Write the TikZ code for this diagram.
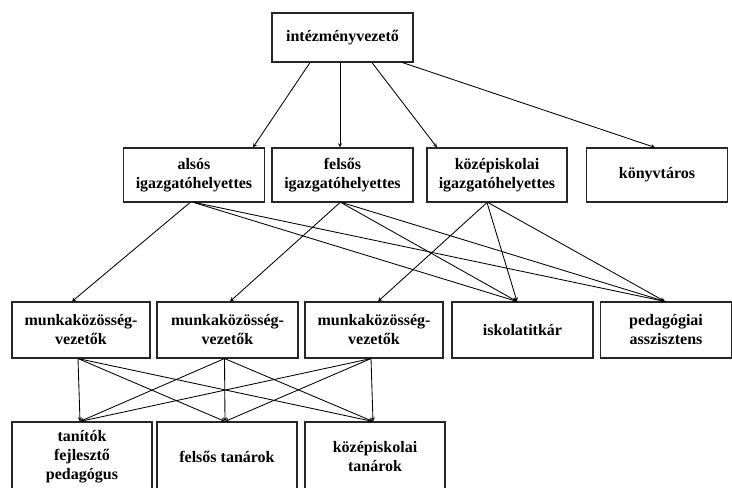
\documentclass[tikz,border=0pt]{standalone}
\usepackage{fontspec}
\setmainfont{Liberation Serif}
\usetikzlibrary{arrows}

\begin{document}
\begin{tikzpicture}[x=1pt, y=-1pt, >=stealth,
	box/.style={draw=black!85, line width=1.1pt, align=center, inner sep=2pt,
		font=\fontsize{16}{19}\selectfont\bfseries, minimum width=141pt, minimum height=54pt},
	conn/.style={->, line width=0.85pt}]

\useasboundingbox (0,0) rectangle (732,488);

\node[box, minimum height=49pt] at (342.5,37.5)(ivez) {intézményvezető};

\node[box] at (194,175)(also) {alsós\\igazgatóhelyettes};
\node[box] at (342.5,175)(felso) {felsős\\igazgatóhelyettes};
\node[box, minimum width=140pt] at (497,175)(kozep) {középiskolai\\igazgatóhelyettes};
\node[box, minimum width=141pt] at (657,175)(konyv) {könyvtáros};

\node[box, minimum width=138pt, minimum height=56pt] at (81,330)(mk1) {munkaközösség-\\vezetők};
\node[box, minimum height=56pt] at (227.5,330)(mk2) {munkaközösség-\\vezetők};
\node[box, minimum width=138pt, minimum height=56pt] at (374,330)(mk3) {munkaközösség-\\vezetők};
\node[box, minimum height=56pt] at (522.5,330)(titk) {iskolatitkár};
\node[box, minimum width=131pt, minimum height=56pt] at (666,330)(asszi) {pedagógiai\\asszisztens};

\node[box, minimum width=140pt, minimum height=70pt] at (82,457)(tan) {tanítók\\fejlesztő\\pedagógus};
\node[box, minimum width=140pt, minimum height=70pt] at (227,457)(ftan) {felsős tanárok};
\node[box, minimum width=140pt, minimum height=70pt] at (375,457)(ktan) {középiskolai\\tanárok};

% vezeto -> helyettesek
\draw[conn] ([xshift=-32.5pt]ivez.south) -- ([xshift=59pt]also.north);
\draw[conn] ([xshift=-2.5pt]ivez.south) -- ([xshift=-2.5pt]felso.north);
\draw[conn] ([xshift=29.5pt]ivez.south) -- ([xshift=-60pt]kozep.north);
\draw[conn] ([xshift=60pt]ivez.south) -- ([xshift=-2pt]konyv.north);

% helyettesek -> masodik szint
\draw[conn] ([xshift=-4pt]also.south) -- ([xshift=-9pt]mk1.north);
\draw[conn] ([xshift=0pt]also.south) -- ([xshift=-5.5pt]titk.north);
\draw[conn] ([xshift=1pt]also.south) -- ([xshift=-1pt]asszi.north);
\draw[conn] ([xshift=-2.5pt]felso.south) -- ([xshift=2.5pt]mk2.north);
\draw[conn] ([xshift=-1.5pt]felso.south) -- ([xshift=-5.5pt]titk.north);
\draw[conn] ([xshift=-0.5pt]felso.south) -- ([xshift=-1pt]asszi.north);
\draw[conn] ([xshift=-10pt]kozep.south) -- ([xshift=4pt]mk3.north);
\draw[conn] ([xshift=-10pt]kozep.south) -- ([xshift=-5.5pt]titk.north);
\draw[conn] ([xshift=-9pt]kozep.south) -- ([xshift=-1pt]asszi.north);

% munkakozossegek -> tanarok
\foreach \a in {mk1,mk2,mk3}
	\foreach \b in {tan,ftan,ktan}
		\draw[conn] ([xshift=-3pt]\a.south) -- ([xshift=-2pt]\b.north);
\end{tikzpicture}
\end{document}
